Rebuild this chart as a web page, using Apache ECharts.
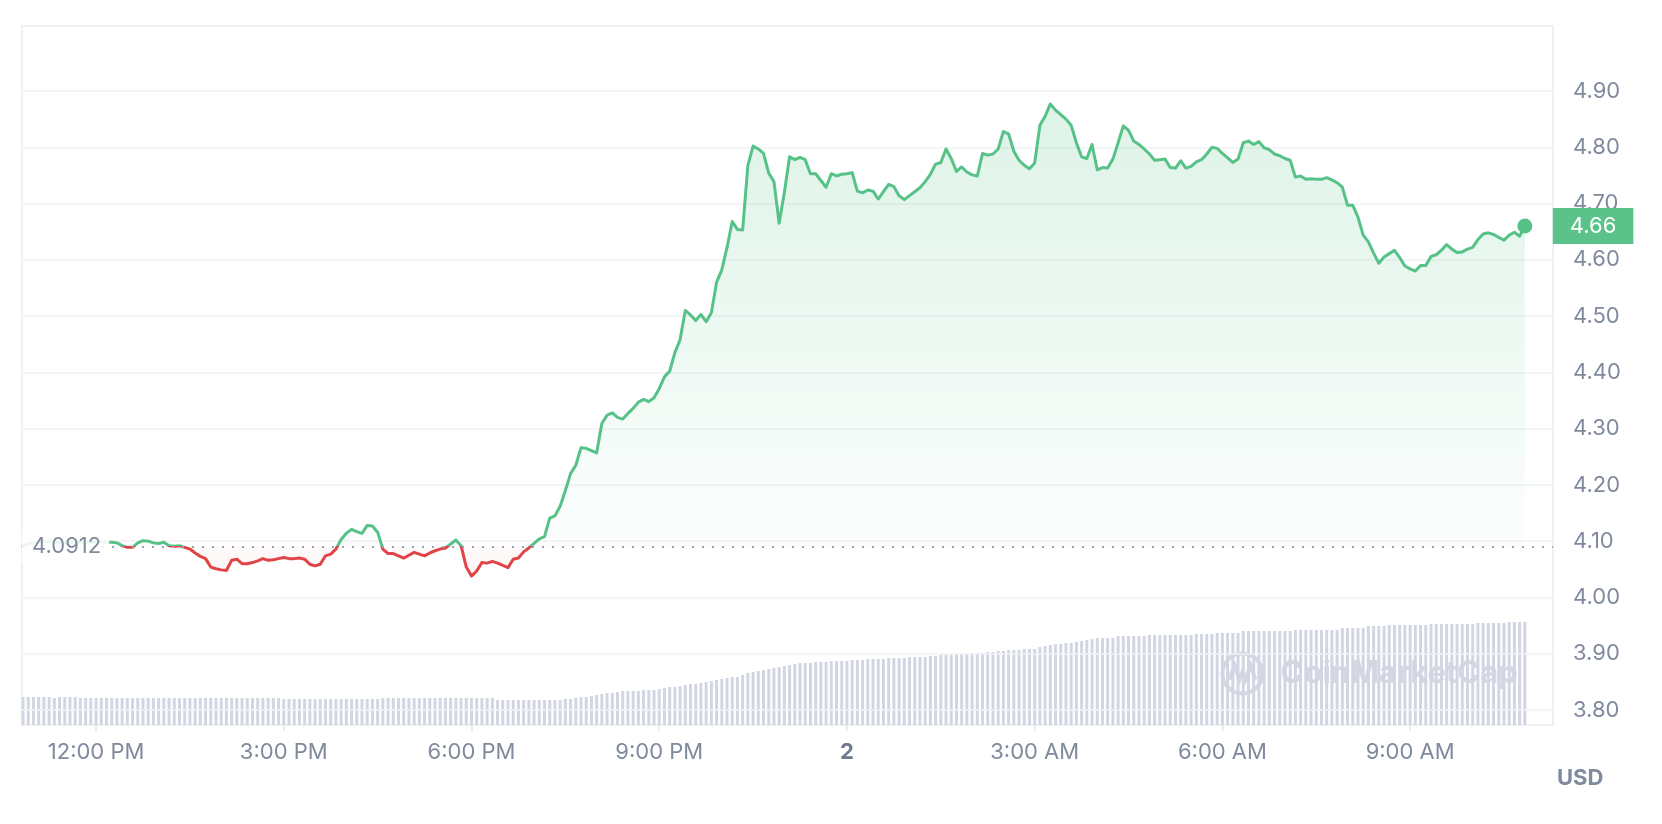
<!DOCTYPE html>
<html><head><meta charset="utf-8">
<script src="https://cdn.jsdelivr.net/npm/echarts@6/dist/echarts.min.js"></script>
<style>html,body{margin:0;padding:0;background:#fff}#c{width:1662px;height:824px}</style>
</head><body><div id="c"></div>
<script>
// ---- data ----
const START_TIME = [2025, 0, 1, 10, 50];   // first 5-minute sample (local time)
const STEP_MINUTES = 5;
const OPEN_PRICE = 4.0912;
const PRICE = [
4.092,4.095,4.097,4.098,4.099,4.100,4.099,4.098,4.097,4.098,
4.099,4.098,4.097,4.098,4.099,4.099,4.098,4.098,4.097,4.092,
4.089,4.089,4.097,4.101,4.100,4.097,4.096,4.098,4.092,4.091,
4.092,4.089,4.086,4.079,4.073,4.069,4.054,4.051,4.049,4.048,
4.066,4.068,4.060,4.060,4.062,4.065,4.069,4.066,4.067,4.069,
4.071,4.069,4.069,4.070,4.068,4.059,4.056,4.059,4.074,4.077,
4.086,4.103,4.114,4.121,4.117,4.114,4.128,4.127,4.116,4.086,
4.078,4.078,4.074,4.070,4.075,4.080,4.077,4.074,4.079,4.083,
4.086,4.088,4.095,4.102,4.092,4.054,4.038,4.047,4.062,4.061,
4.064,4.061,4.057,4.053,4.068,4.070,4.081,4.088,4.096,4.104,
4.108,4.141,4.145,4.162,4.190,4.220,4.235,4.266,4.265,4.261,
4.257,4.309,4.324,4.328,4.320,4.317,4.327,4.336,4.347,4.352,
4.348,4.355,4.371,4.392,4.402,4.435,4.458,4.510,4.502,4.492,
4.503,4.490,4.506,4.560,4.582,4.622,4.668,4.654,4.653,4.768,
4.802,4.797,4.789,4.754,4.739,4.665,4.720,4.783,4.778,4.782,
4.778,4.753,4.753,4.741,4.729,4.753,4.749,4.752,4.753,4.755,
4.722,4.719,4.724,4.722,4.708,4.721,4.734,4.730,4.714,4.707,
4.714,4.721,4.728,4.739,4.752,4.770,4.773,4.797,4.780,4.757,
4.765,4.756,4.751,4.749,4.789,4.786,4.788,4.797,4.828,4.824,
4.793,4.777,4.768,4.762,4.772,4.839,4.855,4.877,4.866,4.858,
4.850,4.839,4.808,4.783,4.780,4.805,4.760,4.764,4.763,4.779,
4.808,4.838,4.830,4.811,4.805,4.797,4.788,4.777,4.778,4.779,
4.764,4.763,4.776,4.763,4.766,4.774,4.778,4.788,4.800,4.798,
4.789,4.781,4.773,4.779,4.808,4.811,4.805,4.810,4.799,4.796,
4.788,4.785,4.780,4.777,4.747,4.749,4.743,4.744,4.743,4.743,
4.746,4.742,4.737,4.729,4.697,4.697,4.676,4.644,4.632,4.612,
4.594,4.605,4.611,4.617,4.604,4.589,4.584,4.580,4.590,4.590,
4.606,4.609,4.617,4.627,4.619,4.613,4.614,4.619,4.622,4.636,
4.646,4.648,4.645,4.640,4.635,4.644,4.649,4.642,4.660
];
// volume, relative units
const VOLUME = [
28,28,28,28,28,28,27,28,28,28,28,
27,27,27,27,27,27,27,27,27,27,27,27,27,27,27,27,27,27,27,27,27,27,27,27,27,27,27,27,27,27,27,27,27,27,27,27,27,27,27,
26,26,26,26,26,26,26,26,26,26,26,26,26,26,26,26,26,26,26,
27,27,27,27,27,27,27,27,27,27,27,27,27,27,27,27,27,27,27,27,27,27,
25,25,25,25,25,25,25,25,25,25,25,25,25,
26,26,27,28,28,29,30,31,32,32,33,34,34,34,34,35,35,35,36,
37,38,38,39,40,41,41,42,43,44,45,46,47,48,48,50,52,53,54,55,
56,57,58,59,60,61,62,62,62,63,63,63,64,64,64,64,65,65,65,66,66,
66,66,67,67,67,67,68,68,68,68,69,69,70,70,70,71,71,71,72,72,72,
73,73,74,74,75,75,75,76,76,76,78,79,80,81,81,82,82,83,84,85,86,
87,87,87,87,89,89,89,89,89,89,90,90,90,90,90,90,90,90,90,
91,91,91,91,92,92,92,92,92,94,94,94,94,94,94,94,94,94,94,
95,95,95,95,95,95,95,95,95,97,97,97,97,97,99,99,99,99,
100,100,100,100,100,100,100,100,101,101,101,101,101,101,101,101,101,
102,102,102,102,102,102,103,103,103,103
];
const VOLUME_AXIS_MAX = 699;
const TICK_TIMES = ['2025-01-01 12:00','2025-01-01 15:00','2025-01-01 18:00','2025-01-01 21:00',
                    '2025-01-02 00:00','2025-01-02 03:00','2025-01-02 06:00','2025-01-02 09:00'];
const PRICE_MIN = 3.8, PRICE_MAX = 4.9, PRICE_STEP = 0.1;

// ---- build ----
const GREEN = '#56c288', RED = '#e04446', GRAY = '#808a9d';
function parseLocal(s){const [d,t]=s.split(' ');const [y,m,dd]=d.split('-').map(Number);const [h,mi]=t.split(':').map(Number);return new Date(y,m-1,dd,h,mi).getTime();}
const t0 = new Date(...START_TIME).getTime();
const STEP = STEP_MINUTES*60000;
const times = PRICE.map((_,i)=>t0+i*STEP);
const X_MIN = t0 - 60000;
const X_MAX = t0 + 24*3600000 + 27*60000;
const TICKS = TICK_TIMES.map(parseLocal);
const priceData = PRICE.map((v,i)=>[times[i],v]);
const volData = VOLUME.map((v,i)=>[times[i],v]);

function fmtTime(v){const d=new Date(v);const h=d.getHours(),m=d.getMinutes();
  if(h===0&&m===0) return '{day|'+d.getDate()+'}';
  const hh=h%12===0?12:h%12; return hh+':'+String(m).padStart(2,'0')+' '+(h<12?'AM':'PM');}

const FONT = 'Inter, "Noto Sans", sans-serif';
const FS = 22;
const chart = echarts.init(document.getElementById('c'), null, {renderer:'canvas'});
const last = priceData[priceData.length-1];
chart.setOption({
  animation:false,
  backgroundColor:'#ffffff',
  textStyle:{fontFamily:FONT},
  grid:[
    {left:22, right:109, top:91, bottom:114},
    {left:22, right:109, top:26, bottom:99, show:true, borderColor:'#eef0f3', borderWidth:2}
  ],
  xAxis:[
    {type:'value', gridIndex:0, min:X_MIN, max:X_MAX, show:false, splitLine:{show:false}},
    {type:'value', gridIndex:1, min:X_MIN, max:X_MAX,
     axisLine:{show:true, lineStyle:{color:'#eef0f3', width:2}},
     axisTick:{show:true, customValues:TICKS, length:6, lineStyle:{color:'#e3e6ea', width:1.5}},
     axisLabel:{customValues:TICKS, formatter:fmtTime, color:GRAY, fontSize:FS, margin:16, fontFamily:FONT,
       rich:{day:{fontWeight:'bold', fontSize:FS, color:'#6f7a8e', fontFamily:FONT}}},
     splitLine:{show:false}}
  ],
  yAxis:[
    {type:'value', gridIndex:0, position:'right', min:PRICE_MIN, max:PRICE_MAX, interval:PRICE_STEP, z:1.5,
     axisLine:{show:false}, axisTick:{show:false},
     axisLabel:{color:GRAY, fontSize:FS, margin:20, fontFamily:FONT, formatter:v=>v.toFixed(2)},
     splitLine:{lineStyle:{color:'#f1f2f4', width:1.5}},
     name:'USD', nameLocation:'start', nameGap:57,
     nameTextStyle:{color:GRAY, fontSize:FS, fontWeight:'bold', align:'left', padding:[0,0,0,4], fontFamily:FONT}},
    {type:'value', gridIndex:1, min:0, max:VOLUME_AXIS_MAX, show:false, splitLine:{show:false}}
  ],
  visualMap:{show:false, type:'piecewise', seriesIndex:0, dimension:1,
    pieces:[{gt:0, lte:OPEN_PRICE, color:RED},{gt:OPEN_PRICE, lte:100, color:GREEN}]},
  graphic:[
    {type:'group', left:1220, top:651, z:0, silent:true, children:[
      {type:'circle', shape:{cx:22, cy:22, r:20}, style:{fill:'none', stroke:'#d3d8e4', lineWidth:4}},
      {type:'polyline', shape:{points:[[9,28],[14,14],[19,28],[22,20],[25,28],[30,14],[35,28]]}, style:{fill:'none', stroke:'#d3d8e4', lineWidth:4}},
      {type:'text', x:60, y:22, style:{text:'CoinMarketCap', font:'bold 31px '+FONT, fill:'#d3d8e4', verticalAlign:'middle'}}
    ]}
  ],
  series:[
    {type:'line', xAxisIndex:0, yAxisIndex:0, data:priceData, showSymbol:false, z:3,
     lineStyle:{width:3, join:'round', cap:'round'},
     areaStyle:{origin:OPEN_PRICE, color:new echarts.graphic.LinearGradient(0,0,0,1,[
        {offset:0, color:'rgba(86,194,136,0.28)'},
        {offset:0.92, color:'rgba(86,194,136,0.03)'},
        {offset:0.935, color:'rgba(224,68,70,0.03)'},
        {offset:1, color:'rgba(224,68,70,0.09)'}])},
     endLabel:{show:true, formatter:p=>p.value[1].toFixed(2), color:'#fff', backgroundColor:'#5bc38a',
       fontSize:FS, padding:[7,17,7,17], distance:28, fontFamily:FONT},
     markPoint:{symbol:'circle', symbolSize:15, itemStyle:{color:GREEN}, label:{show:false}, silent:true,
       data:[{coord:last}]},
     markLine:{symbol:'none', silent:true, lineStyle:{color:'#9aa1b0', type:[2,8], width:2},
       label:{show:true, position:'insideStartTop', distance:0, verticalAlign:'middle', align:'left',
         formatter:()=>OPEN_PRICE.toFixed(4), color:GRAY, fontSize:FS, fontFamily:FONT,
         backgroundColor:'rgba(255,255,255,0.88)', padding:[6,8,6,10]},
       data:[{yAxis:OPEN_PRICE}]}
    },
    {type:'bar', xAxisIndex:1, yAxisIndex:1, data:volData, barWidth:3, z:1,
     itemStyle:{color:'#d1d6e2'}, silent:true}
  ]
});
</script></body></html>
